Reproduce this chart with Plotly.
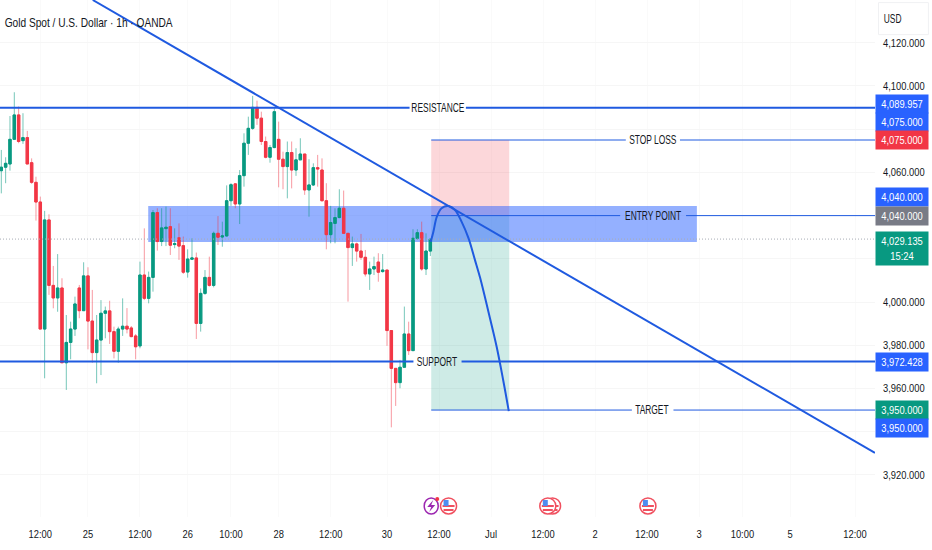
import plotly.graph_objects as go

# hourly candles
opens = [4060.8, 4062.4, 4063.9, 4075.3, 4086.6, 4074.7, 4076.1, 4064.5, 4055.4, 4046.3,
         3987.5, 4038.0, 4007.7, 4001.9, 4006.5, 3971.9, 3981.3, 3987.5, 4006.5, 3996.0,
         4012.1, 3991.2, 3976.6, 3982.4, 3994.8, 3995.9, 3986.3, 3977.2, 3987.5, 3988.8,
         3988.0, 3984.3, 3979.7, 4012.5, 4001.7, 4011.4, 4041.4, 4028.0, 4034.0, 4034.9,
         4026.6, 4029.7, 4026.1, 4013.9, 4019.8, 4020.4, 3990.1, 4004.0, 4011.4, 4007.7,
         4031.8, 4030.1, 4030.6, 4046.9, 4054.7, 4045.4, 4058.5, 4073.5, 4080.4, 4090.1,
         4085.1, 4074.3, 4067.0, 4071.5, 4075.3, 4066.1, 4062.7, 4069.2, 4061.1, 4065.8,
         4068.5, 4051.9, 4054.2, 4062.2, 4061.1, 4046.9, 4031.2, 4036.4, 4039.1, 4043.4,
         4031.8, 4025.2, 4026.9, 4023.6, 4020.7, 4013.0, 4015.3, 4018.5, 4014.1, 4014.8,
         3986.8, 3969.3, 3962.7, 3969.8, 3985.2, 3977.5, 4029.5, 4032.1, 4015.3, 4023.6]
highs = [4070.4, 4067.0, 4086.1, 4097.1, 4090.5, 4087.4, 4079.2, 4066.5, 4058.0, 4048.8,
         4042.2, 4040.6, 4016.7, 4022.2, 4011.0, 3994.0, 3990.9, 4002.5, 4007.9, 4018.4,
         4016.1, 4005.6, 3994.0, 4000.9, 3997.9, 4000.6, 3988.6, 3988.6, 4001.7, 3997.2,
         3988.9, 3985.2, 4018.7, 4034.1, 4014.1, 4042.6, 4043.4, 4043.4, 4044.2, 4043.4,
         4034.1, 4036.4, 4030.3, 4024.4, 4029.5, 4022.9, 4006.3, 4014.8, 4021.0, 4032.6,
         4039.8, 4037.2, 4054.0, 4055.0, 4055.0, 4061.1, 4078.1, 4085.8, 4095.4, 4093.2,
         4088.1, 4076.6, 4072.7, 4089.7, 4083.5, 4069.6, 4074.3, 4074.3, 4071.2, 4075.8,
         4068.5, 4066.1, 4064.2, 4068.1, 4066.5, 4055.0, 4044.5, 4043.4, 4052.2, 4051.6,
         4031.8, 4030.3, 4027.5, 4031.5, 4024.1, 4018.7, 4021.0, 4022.6, 4022.2, 4014.8,
         3986.8, 3969.3, 3973.2, 3997.9, 3990.9, 4033.7, 4033.7, 4037.2, 4031.8, 4029.1]
lows = [4050.3, 4055.0, 4060.8, 4075.0, 4073.5, 4073.2, 4063.9, 4054.7, 4037.7, 3987.5,
        3964.7, 4003.3, 3997.1, 3995.5, 3971.9, 3959.3, 3973.5, 3984.3, 3992.5, 3996.0,
        3978.1, 3971.9, 3962.4, 3966.2, 3983.2, 3980.6, 3973.9, 3971.9, 3984.3, 3985.5,
        3983.7, 3973.5, 3978.6, 4000.9, 3999.4, 4004.8, 4023.8, 4025.9, 4025.9, 4021.8,
        4024.9, 4019.5, 4013.0, 4011.3, 4019.5, 3982.9, 3986.3, 4003.3, 4007.1, 4006.8,
        4026.4, 4025.6, 4030.3, 4044.5, 4043.4, 4036.1, 4053.4, 4068.1, 4079.7, 4082.0,
        4072.7, 4066.5, 4064.5, 4071.2, 4053.1, 4052.2, 4048.0, 4052.6, 4058.4, 4065.8,
        4049.6, 4039.5, 4053.7, 4053.4, 4046.5, 4024.4, 4027.2, 4027.2, 4038.8, 4031.5,
        4000.2, 4016.7, 4018.7, 4019.5, 4011.8, 4005.6, 4012.5, 4009.4, 4013.6, 3979.7,
        3942.0, 3951.9, 3960.1, 3969.8, 3975.5, 3977.5, 4028.7, 4014.5, 4012.5, 4021.3]
closes = [4062.4, 4064.2, 4075.3, 4086.6, 4074.3, 4076.1, 4063.9, 4055.4, 4046.3, 3987.5,
          4038.0, 4007.7, 4001.9, 4006.5, 3971.9, 3981.3, 3987.5, 3999.1, 3996.0, 4012.1,
          3991.2, 3976.6, 3982.4, 3994.8, 3995.9, 3986.3, 3977.2, 3987.5, 3988.8, 3987.5,
          3984.0, 3979.3, 4012.5, 4001.7, 4011.4, 4041.4, 4028.0, 4034.3, 4034.6, 4026.3,
          4027.0, 4025.9, 4013.8, 4019.9, 4020.4, 3990.1, 4004.0, 4011.4, 4007.7, 4031.8,
          4030.0, 4030.6, 4046.9, 4054.3, 4045.4, 4058.5, 4073.5, 4080.4, 4090.1, 4085.1,
          4074.3, 4067.0, 4071.5, 4088.1, 4066.1, 4062.7, 4069.2, 4061.1, 4065.8, 4068.5,
          4051.9, 4054.2, 4062.2, 4061.6, 4046.9, 4031.2, 4036.8, 4039.1, 4043.4, 4031.8,
          4025.2, 4026.9, 4023.6, 4020.7, 4013.0, 4015.3, 4016.4, 4013.8, 4014.8, 3986.8,
          3969.3, 3962.7, 3969.8, 3985.2, 3977.5, 4029.5, 4032.1, 4015.3, 4023.6, 4029.1]
bar_index = list(range(len(opens)))

# axis labels
time_ticks = [9, 20, 32, 43, 53, 64, 76, 89, 101, 113, 125, 137, 149, 161, 171, 182, 197]
time_labels = ["12:00", "25", "12:00", "26", "10:00", "28", "12:00", "30", "12:00",
               "Jul", "12:00", "2", "12:00", "3", "10:00", "5", "12:00"]
price_ticks = list(range(3920, 4121, 20))
price_labels = ["3,920.000", "", "3,960.000", "3,980.000", "4,000.000", "", "", "4,060.000",
                "", "4,100.000", "4,120.000"]

# drawings
resistance = 4089.957
support = 3972.428
stop_loss = 4075.0
entry = 4040.0
target = 3950.0
last_price = 4029.135
zone_top = 4044.4
zone_bottom = 4027.8
trend_x = [21.1, 201.6]
trend_y = [4139.8, 3930.2]
curve_x = [99.1, 99.7, 100.5, 101.6, 103.2, 104.7, 106.2, 107.8, 109.3, 110.5, 112.4, 114.3, 115.8, 117.1]
curve_y = [4027.9, 4032.5, 4039.5, 4043.4, 4044.4, 4042.6, 4037.2, 4029.6, 4019.4, 4011.1, 3995.5,
           3979.3, 3963.9, 3949.5]
event_flags = [103.2, 127.2, 126.1, 149.2]
event_bolt = 99.2

X_MIN, X_MAX = -0.3, 201.6
Y_MIN, Y_MAX = 3900.5, 4139.8
POS_L, POS_R = 99.2, 117.2
BLUE = "#1f5ae0"
GREEN = "#089981"
RED = "#f23645"
FONT = "Liberation Sans, sans-serif"

fig = go.Figure()

# wicks and bodies are separate so the wicks can stay pale
fig.add_trace(go.Candlestick(x=bar_index, open=opens, high=highs, low=lows, close=closes,
                             increasing=dict(line=dict(color="rgba(8,153,129,0.55)", width=1), fillcolor="rgba(0,0,0,0)"),
                             decreasing=dict(line=dict(color="rgba(242,54,69,0.5)", width=1), fillcolor="rgba(0,0,0,0)"),
                             whiskerwidth=0, showlegend=False, hoverinfo="skip"))
fig.add_trace(go.Candlestick(x=bar_index, open=opens, close=closes,
                             high=[max(o, c) for o, c in zip(opens, closes)],
                             low=[min(o, c) for o, c in zip(opens, closes)],
                             increasing=dict(line=dict(color=GREEN, width=1), fillcolor=GREEN),
                             decreasing=dict(line=dict(color=RED, width=1), fillcolor=RED),
                             whiskerwidth=0, showlegend=False, hoverinfo="skip"))

def add_line(xs, ys, width, dash=None, color=BLUE, smooth=False):
    line = dict(color=color, width=width, dash=dash)
    if smooth:
        line["shape"] = "spline"
    fig.add_trace(go.Scatter(x=xs, y=ys, mode="lines", line=line, showlegend=False, hoverinfo="skip"))

add_line([X_MIN, X_MAX], [last_price, last_price], 1, "1px,2px", "#a8acb5")
add_line([X_MIN, 94.2, None, 107.2, X_MAX], [resistance, resistance, None, resistance, resistance], 2)
add_line([X_MIN, 95.1, None, 106.2, X_MAX], [support, support, None, support, support], 2)
add_line([POS_L, 144.1, None, 156.6, X_MAX], [stop_loss, stop_loss, None, stop_loss, stop_loss], 1)
add_line([POS_L, 142.8, None, 158.0, X_MAX], [entry, entry, None, entry, entry], 1)
add_line([POS_L, 145.5, None, 155.1, X_MAX], [target, target, None, target, target], 1)
add_line(trend_x, trend_y, 2)
add_line(curve_x, curve_y, 2, smooth=True)

# long/short position tool and the entry zone
fig.add_shape(type="rect", x0=POS_L, x1=POS_R, y0=entry, y1=stop_loss, layer="between",
              fillcolor="rgba(242,54,69,0.2)", line_width=0)
fig.add_shape(type="rect", x0=POS_L, x1=POS_R, y0=target, y1=entry, layer="between",
              fillcolor="rgba(8,153,129,0.2)", line_width=0)
fig.add_shape(type="rect", x0=33.9, x1=160.5, y0=zone_bottom, y1=zone_top, layer="between",
              fillcolor="rgba(41,98,255,0.5)", line_width=0)

# text on the chart
for text, x, y in [("RESISTANCE", 100.7, resistance), ("SUPPORT", 100.5, support),
                   ("STOP LOSS", 150.3, stop_loss), ("ENTRY POINT", 150.5, entry),
                   ("TARGET", 150.2, target)]:
    fig.add_annotation(x=x, y=y, text=text, showarrow=False, font=dict(family=FONT, size=12, color="#131722"))

fig.add_annotation(xref="paper", yref="paper", x=0.1017, y=1, yshift=-13, xanchor="center", yanchor="top",
                   text="Gold Spot / U.S. Dollar · 1h · OANDA", showarrow=False,
                   font=dict(family=FONT, size=13, color="#131722"))

# price tags on the right axis
tags = [("4,089.957", resistance, 4, "#2962ff"), ("4,075.000", stop_loss, 18, "#2962ff"),
        ("4,075.000", stop_loss, 0, RED), ("4,040.000", entry, 18.5, "#2962ff"),
        ("4,040.000", entry, 0, "#787b86"), ("3,972.428", support, 0, "#2962ff"),
        ("3,950.000", target, 0, GREEN), ("3,950.000", target, -18, "#2962ff")]
for text, y, shift, color in tags:
    fig.add_annotation(xref="paper", x=1, y=y, yshift=shift, xanchor="left", text=text, showarrow=False,
                       width=52, height=18, borderpad=0, bgcolor=color,
                       font=dict(family=FONT, size=11, color="white"))
fig.add_annotation(xref="paper", x=1, y=last_price, yshift=-9, xanchor="left", showarrow=False,
                   text="4,029.135<br>15:24", width=52, height=33, borderpad=0, bgcolor=GREEN,
                   font=dict(family=FONT, size=11, color="white"))

fig.add_annotation(xref="paper", yref="paper", x=1.0206, y=1, yshift=-10, xanchor="center", yanchor="top",
                   text="USD", showarrow=False, font=dict(family=FONT, size=12, color="#131722"))
fig.add_shape(type="rect", xref="paper", yref="paper", x0=1.004, x1=1.061, y0=0.933, y1=0.995,
              fillcolor="white", line=dict(color="#f0f1f3", width=1))

# economic event icons under the bars
ICON_Y = 3905.6

def pixel_shape(idx, **kw):
    fig.add_shape(xref="x", yref="y", xsizemode="pixel", ysizemode="pixel", xanchor=idx, yanchor=ICON_Y, **kw)

for idx in event_flags:
    pixel_shape(idx, type="circle", x0=-8, x1=8, y0=-8, y1=8, fillcolor="white", line=dict(color="#f0505f", width=1.5))
    pixel_shape(idx, type="rect", x0=-5, x1=5, y0=-5, y1=-3, fillcolor="#f0505f", line_width=0)
    pixel_shape(idx, type="rect", x0=-6, x1=6, y0=-1, y1=1, fillcolor="#f0505f", line_width=0)
    pixel_shape(idx, type="rect", x0=-5, x1=0, y0=0, y1=6, fillcolor="#4f8df0", line_width=0)

pixel_shape(event_bolt, type="circle", x0=-7, x1=7, y0=-8, y1=8, fillcolor="white", line=dict(color="#9c27b0", width=1.5))
pixel_shape(event_bolt, type="path", path="M 2 6 L -4 -1 L 0 -1 L -2 -6 L 4 1 L 0 1 Z", fillcolor="#9c27b0", line_width=0)
pixel_shape(event_bolt, type="circle", x0=4, x1=8, y0=5, y1=9, fillcolor=RED, line_width=0)

fig.update_layout(width=932, height=550, margin=dict(l=0, r=57, t=0, b=33),
                  paper_bgcolor="white", plot_bgcolor="white", boxgap=0.2,
                  font=dict(family=FONT, size=11, color="#131722"))
fig.update_xaxes(range=[X_MIN, X_MAX], rangeslider_visible=False, tickmode="array", tickvals=time_ticks,
                 ticktext=time_labels, ticks="", showline=False, zeroline=False, gridcolor="#fafafa",
                 automargin=False, ticklabelstandoff=9, tickfont=dict(family=FONT, size=11))
fig.update_yaxes(range=[Y_MIN, Y_MAX], side="right", tickmode="array", tickvals=price_ticks,
                 ticktext=price_labels, ticks="", showline=False, zeroline=False, gridcolor="#f6f6f6",
                 automargin=False, ticklabelstandoff=7, tickfont=dict(family=FONT, size=11))

# page margin off, and squeeze the text: the original uses a narrow face that is not installed
squeeze = """
document.body.style.margin = '0';
document.querySelectorAll('.main-svg text').forEach(function (t) {
    var parts = t.querySelectorAll('tspan.line');
    var f = /^[A-Z ]{3,}$/.test(t.textContent) ? 0.7 : (parseFloat(t.style.fontSize) < 12 ? 0.85 : 0.78);
    (parts.length ? parts : [t]).forEach(function (p) {
        var w = p.getComputedTextLength();
        if (w > 0) {
            p.setAttribute('lengthAdjust', 'spacingAndGlyphs');
            p.setAttribute('textLength', w * f);
        }
    });
});
"""
fig.write_html("out.html", post_script=squeeze, config=dict(displayModeBar=False))
